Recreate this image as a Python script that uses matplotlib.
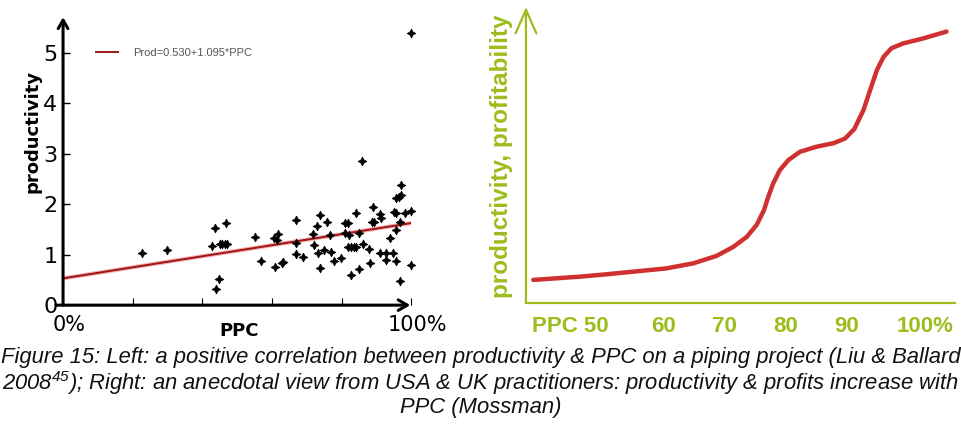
import numpy as np
import matplotlib.pyplot as plt
import matplotlib.transforms as mtransforms

# left panel: PPC (fraction) vs productivity
ppc = [0.228, 0.299, 0.428, 0.437, 0.438, 0.447, 0.450, 0.457, 0.464, 0.470,
       0.469, 0.550, 0.569, 0.606, 0.608, 0.614, 0.618, 0.628, 0.632, 0.668,
       0.668, 0.668, 0.689, 0.718, 0.720, 0.729, 0.732, 0.737, 0.739, 0.748,
       0.758, 0.767, 0.770, 0.778, 0.797, 0.809, 0.811, 0.818, 0.820, 0.818,
       0.828, 0.828, 0.835, 0.840, 0.842, 0.850, 0.850, 0.859, 0.861, 0.878,
       0.880, 0.890, 0.888, 0.893, 0.909, 0.914, 0.909, 0.928, 0.928, 0.938,
       0.947, 0.950, 0.957, 0.957, 0.957, 0.957, 0.965, 0.969, 0.969, 0.967,
       0.967, 0.981, 1.000, 1.000, 1.000]
prod = [1.04, 1.09, 1.17, 1.52, 0.31, 0.51, 1.21, 1.21, 1.21, 1.21,
        1.62, 1.35, 0.87, 1.33, 0.76, 1.29, 1.40, 0.84, 0.86, 1.68,
        1.24, 1.02, 0.96, 1.40, 1.19, 1.57, 1.04, 0.74, 1.78, 1.10,
        1.65, 1.39, 1.06, 0.87, 0.94, 1.63, 1.42, 1.63, 1.39, 1.16,
        1.16, 0.59, 1.16, 1.83, 1.16, 1.43, 0.71, 2.85, 1.22, 1.12,
        0.84, 1.95, 1.65, 1.65, 1.80, 1.72, 1.04, 1.04, 0.89, 1.33,
        1.04, 1.85, 1.82, 0.87, 1.49, 2.13, 2.15, 2.38, 2.18, 1.65,
        0.48, 1.82, 1.87, 0.79, 5.38]
intercept, slope = 0.530, 1.095
left_xticks = [0, 0.2, 0.4, 0.6, 0.8, 1.0]
left_xlabels = ["0%", "", "", "", "", "100%"]
left_yticks = [0, 1, 2, 3, 4, 5]

# right panel: schematic curve, PPC vs productivity/profitability
curve_x = [38.6, 46.2, 49.5, 55.0, 60.4, 64.8, 68.6, 71.4, 73.6, 75.2, 76.4,
           77.1, 77.9, 79.0, 80.4, 82.3, 85.0, 87.8, 89.7, 91.2, 92.7, 93.8,
           94.9, 96.0, 97.3, 99.2, 102.5, 106.3]
curve_y = [7.8, 8.9, 9.5, 10.6, 11.7, 13.4, 15.9, 19.0, 22.4, 26.4, 31.4,
           35.9, 40.4, 44.9, 48.3, 51.1, 52.8, 54.0, 55.6, 58.8, 65.2, 72.0,
           78.7, 83.2, 86.1, 87.7, 89.4, 91.7]
right_xticks = [50, 60, 70, 80, 90, 100]
right_xlabels = ["PPC 50", "60", "70", "80", "90", "100%"]

green = "#9cbd1c"
red = "#d03030"

fig = plt.figure(figsize=(9.61, 4.25), dpi=100)

# ---- left
ax1 = fig.add_axes([0.0656, 0.282, 0.3624, 0.6775])
ax1.scatter(ppc, prod, marker=(4, 1, 0), s=40, color="black", linewidths=0.5,
            clip_on=False, zorder=3)
xs = np.array([0.0, 1.0])
ax1.plot(xs, intercept + slope * xs, color="#f4b0b0", lw=3.0, solid_capstyle="butt")
ax1.plot(xs, intercept + slope * xs, color="#9b1515", lw=1.4,
         label="Prod=0.530+1.095*PPC")
ax1.set_xlim(0, 1.0)
ax1.set_ylim(0, 5.7)
for s in ax1.spines.values():
    s.set_visible(False)
ax1.annotate("", xy=(0, 1.0), xytext=(0, 0), xycoords="axes fraction",
             arrowprops=dict(arrowstyle="->,head_length=0.6,head_width=0.35",
                             lw=2.2, color="black", mutation_scale=10,
                             shrinkA=0, shrinkB=0))
ax1.annotate("", xy=(0.997, 0), xytext=(-0.02, 0), xycoords="axes fraction",
             arrowprops=dict(arrowstyle="->,head_length=0.65,head_width=0.38",
                             lw=2.2, color="black", mutation_scale=10,
                             shrinkA=0, shrinkB=0))
ax1.set_xticks(left_xticks)
ax1.set_xticklabels(left_xlabels, fontsize=15)
ax1.set_yticks(left_yticks)
ax1.set_yticklabels([str(v) for v in left_yticks], fontsize=16)
ax1.tick_params(axis="x", direction="in", length=5, width=0.8, pad=7)
ax1.tick_params(axis="y", direction="in", length=5, width=1.0, pad=4)
off = mtransforms.ScaledTranslation(6 / 100, 0, fig.dpi_scale_trans)
for lab in ax1.get_xticklabels():
    lab.set_transform(lab.get_transform() + off)
ax1.set_ylabel("productivity", fontsize=13, fontweight="bold")
ax1.yaxis.set_label_coords(-0.061, 0.602)
ax1.set_xlabel("PPC", fontsize=13, fontweight="bold")
ax1.xaxis.set_label_coords(0.507, -0.058)
leg = ax1.legend(loc="center left", bbox_to_anchor=(0.095, 0.877), frameon=False,
                 handlelength=2.0, handletextpad=1.3, borderpad=0, borderaxespad=0,
                 prop={"family": "Liberation Sans", "size": 8})
for t in leg.get_texts():
    t.set_color("#555555")

# ---- right
ax2 = fig.add_axes([0.5473, 0.287, 0.4465, 0.6965])
ax2.plot(curve_x, curve_y, color=red, lw=3.2, solid_capstyle="round",
         solid_joinstyle="round")
ax2.set_xlim(37.4, 107.7)
ax2.set_ylim(0, 100)
for k in ["top", "right", "left"]:
    ax2.spines[k].set_visible(False)
ax2.spines["bottom"].set_color(green)
ax2.spines["bottom"].set_linewidth(1.6)
ax2.annotate("", xy=(0, 1.0), xytext=(0, 0), xycoords="axes fraction",
             arrowprops=dict(arrowstyle="->,head_length=1.7,head_width=0.75",
                             lw=1.6, color=green, mutation_scale=10,
                             shrinkA=0, shrinkB=0))
ax2.set_yticks([])
ax2.set_xticks(right_xticks)
ax2.set_xticklabels(right_xlabels, fontsize=16, fontweight="bold",
                    color=green, family="Liberation Sans")
ax2.tick_params(axis="x", length=0, pad=9)
labs = ax2.get_xticklabels()
labs[0].set_ha("right")
labs[0].set_transform(labs[0].get_transform()
                      + mtransforms.ScaledTranslation(6 / 100, 0, fig.dpi_scale_trans))
labs[-1].set_ha("left")
labs[-1].set_transform(labs[-1].get_transform()
                       + mtransforms.ScaledTranslation(-11 / 100, 0, fig.dpi_scale_trans))
ax2.set_ylabel("productivity, profitability", fontsize=17.5, fontweight="bold",
               color=green, family="Liberation Sans")
ax2.yaxis.set_label_coords(-0.030, 0.497)

# ---- caption
plt.rcParams["mathtext.fontset"] = "custom"
plt.rcParams["mathtext.rm"] = "Liberation Sans:italic"
plt.rcParams["mathtext.it"] = "Liberation Sans:italic"
cap = dict(fontsize=15.8, style="italic", family="Liberation Sans", ha="center",
           va="center", color="#111111")
fig.text(0.5, 0.160, "Figure 15: Left: a positive correlation between productivity & PPC "
         "on a piping project (Liu & Ballard", **cap)
fig.text(0.5, 0.0988, r"2008$^{45}$); Right: an anecdotal view from USA & UK practitioners: "
         "productivity & profits increase with", **cap)
fig.text(0.5, 0.040, "PPC (Mossman)", **cap)

fig.savefig("out.png", dpi=100)
